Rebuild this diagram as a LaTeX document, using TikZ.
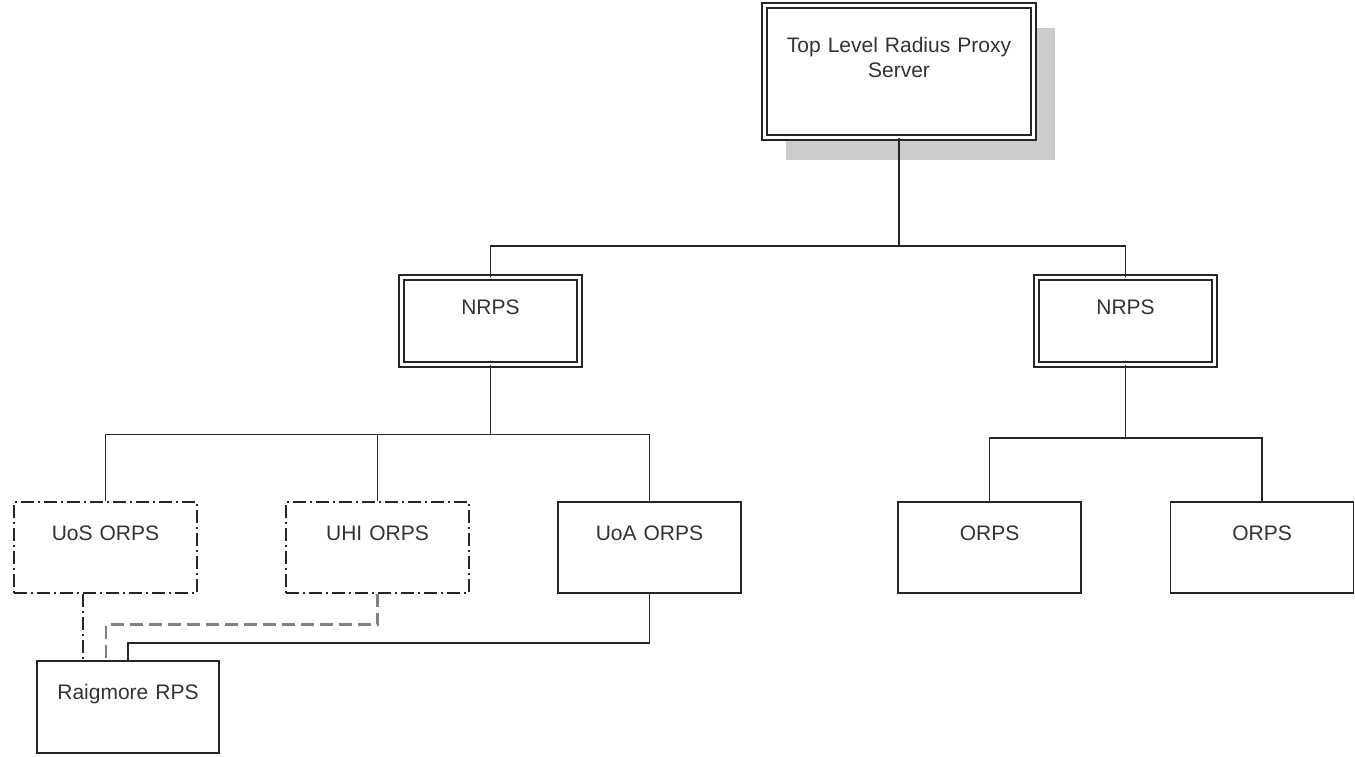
\documentclass[tikz,border=0pt]{standalone}
\usepackage{fontspec}
\setmainfont{Liberation Sans}
\usetikzlibrary{shadows, positioning}

\begin{document}
\begin{tikzpicture}[x=1pt, y=-1pt,
  every node/.style={font=\fontsize{21}{25}\selectfont, text=black!80},
  box/.style={draw=black!85, line width=1.5pt, inner sep=0pt, text width=183pt, align=center, text height=38pt, text depth=53pt},
  dashbox/.style={box, dash pattern=on 13pt off 4pt on 2pt off 4pt},
  dbox/.style={box, double, double distance=3.4pt, line width=1.4pt, text width=178pt, text height=36.5pt, text depth=50.5pt},
  link/.style={draw=black!85, line width=1.5pt},
  dotlink/.style={link, dash pattern=on 13pt off 4pt on 2pt off 4pt},
  greylink/.style={draw=black!50, line width=2.8pt, dash pattern=on 13pt off 6pt}]
\useasboundingbox (0,0) rectangle (1355,756);

% Draw the top level server
\node[dbox, text width=269pt, text height=46.5pt, text depth=85.5pt, fill=white,
  general shadow={fill=black!20, shadow xshift=21pt, shadow yshift=-22pt}] (top) at (899,71.5) {Top Level Radius Proxy\\Server};

% Draw the national servers
\node[dbox] (nrpsL) at (490.5,321) {NRPS};
\node[dbox] (nrpsR) at (1125.5,321) {NRPS};

% Draw the organisational servers
\pgfmathsetmacro{\rowY}{547.5}
\node[dashbox] (uos) at (105.5,\rowY) {UoS ORPS};
\node[dashbox] (uhi) at (377.5,\rowY) {UHI ORPS};
\node[box] (uoa) at (649.5,\rowY) {UoA ORPS};
\node[box] (orpsA) at (989.5,\rowY) {ORPS};
\node[box] (orpsB) at (1262,\rowY) {ORPS};
\node[box, text width=182pt, text depth=54pt] (raig) at (128,707) {Raigmore RPS};

% Draw the tree links
\coordinate (busT) at (899,246);
\coordinate (busL) at (490.5,434.5);
\coordinate (busR) at (1125.5,438);
\draw[link] (top.south) -- (busT) -| (nrpsL.north);
\draw[link] (busT) -| (nrpsR.north);
\draw[link] (nrpsL.south) -- (busL) -| (uos.north);
\draw[link] (busL) -| (uhi.north);
\draw[link] (busL) -| (uoa.north);
\draw[link] (nrpsR.south) -- (busR) -| (orpsA.north);
\draw[link] (busR) -| (orpsB.north);

% Draw the links into Raigmore
\coordinate (raigA) at ([xshift=-45pt]raig.north);
\coordinate (raigB) at ([xshift=-22pt]raig.north);
\draw[dotlink] (raigA |- uos.south) -- (raigA);
\draw[greylink] (uhi.south) -- ++(0,31) -| (raigB);
\draw[link] (uoa.south) -- ++(0,49) -| (raig.north);
\end{tikzpicture}
\end{document}
